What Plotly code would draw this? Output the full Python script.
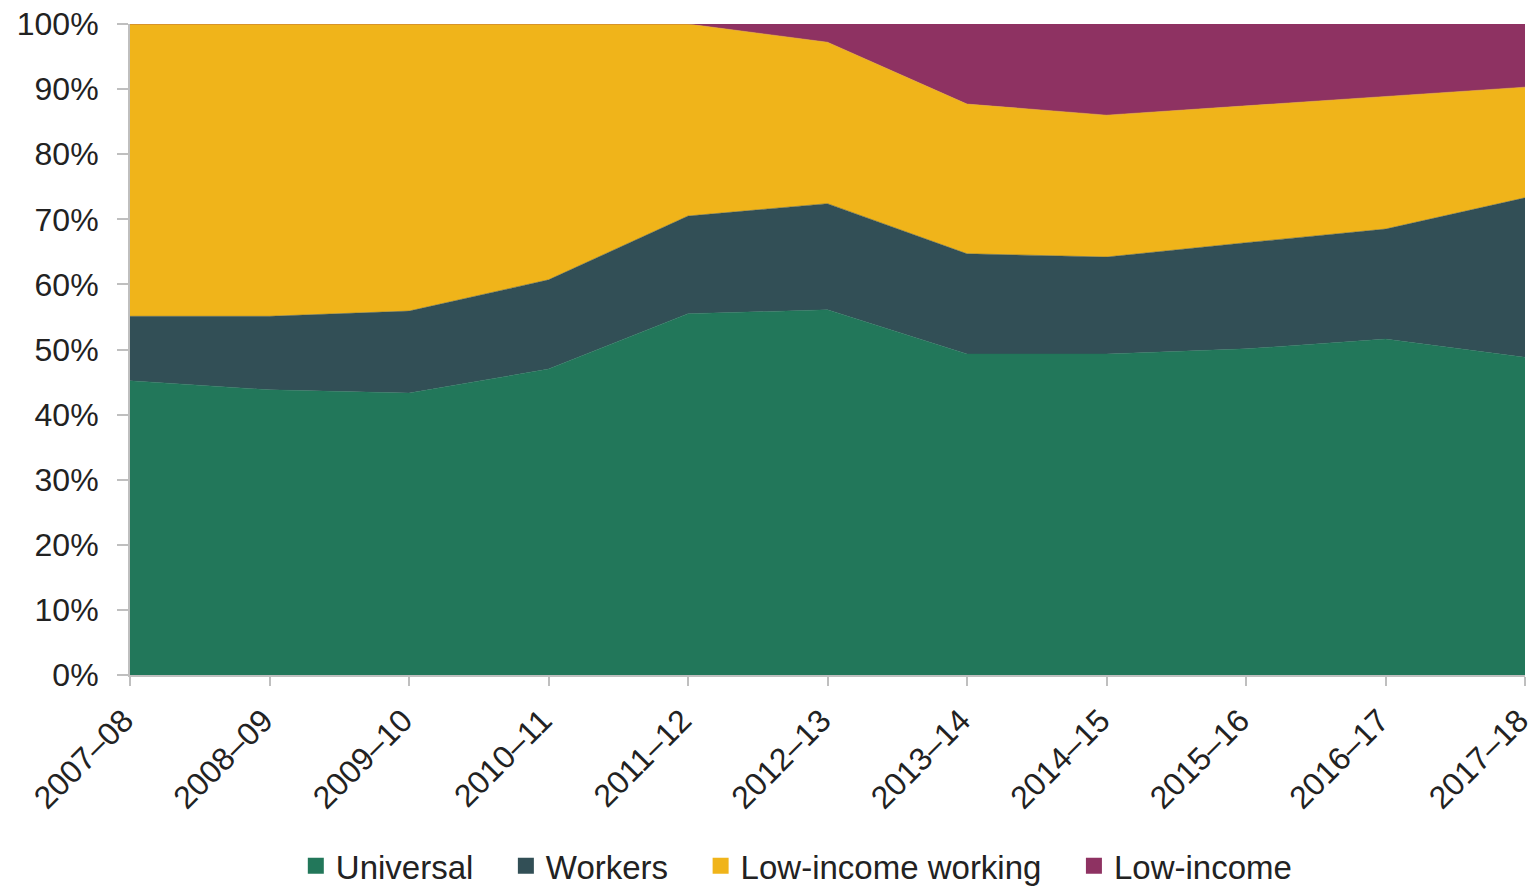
import plotly.graph_objects as go

years = ["2007–08", "2008–09", "2009–10", "2010–11", "2011–12", "2012–13",
         "2013–14", "2014–15", "2015–16", "2016–17", "2017–18"]
universal = [45.2, 43.8, 43.3, 47.0, 55.5, 56.1, 49.3, 49.3, 50.1, 51.6, 48.8]
workers = [9.9, 11.3, 12.6, 13.7, 15.0, 16.3, 15.4, 14.9, 16.3, 16.9, 24.5]
low_income_working = [44.9, 44.9, 44.1, 39.3, 29.5, 24.8, 23.0, 21.8, 21.0, 20.3, 17.0]
low_income = [0.0, 0.0, 0.0, 0.0, 0.0, 2.8, 12.3, 14.0, 12.6, 11.2, 9.7]
y_ticks = [0, 10, 20, 30, 40, 50, 60, 70, 80, 90, 100]
y_tick_labels = [f"{v}%" for v in y_ticks]

series = [
    ("Universal", universal, "#22775A"),
    ("Workers", workers, "#324F56"),
    ("Low-income working", low_income_working, "#F0B41A"),
    ("Low-income", low_income, "#8E3262"),
]

fig = go.Figure()
for name, vals, col in series:
    fig.add_trace(go.Scatter(
        x=years, y=vals, name=name, mode="lines", stackgroup="one",
        line=dict(width=0.5, color=col), fillcolor=col, showlegend=False,
    ))
# legend entries with square swatches
nbsp = "\u00a0" * 3
for i, (name, vals, col) in enumerate(series):
    fig.add_trace(go.Scatter(
        x=[None], y=[None], mode="markers", name=name + (nbsp if i < len(series) - 1 else ""),
        marker=dict(symbol="square", size=17, color=col), showlegend=True,
    ))

fig.update_layout(
    width=1534, height=903,
    margin=dict(l=130, r=9, t=24, b=216),
    paper_bgcolor="white", plot_bgcolor="white",
    font=dict(family="Liberation Sans, Arial, sans-serif", size=32, color="#222222"),
    showlegend=True,
    legend=dict(orientation="h", x=0.478, xanchor="center", y=-0.293, yanchor="middle",
                font=dict(size=33), traceorder="normal", tracegroupgap=0),
)
fig.update_xaxes(
    type="category", range=[0, 10], showgrid=False, zeroline=False,
    showline=True, linecolor="#BFBFBF", linewidth=2,
    ticks="outside", ticklen=9, tickcolor="#BFBFBF", tickwidth=2,
    tickangle=-45, tickfont=dict(size=32), automargin=False,
    ticklabelshift=-6, ticklabelstandoff=3,
)
fig.update_yaxes(
    range=[0, 100], tickvals=y_ticks, ticktext=y_tick_labels,
    showgrid=False, zeroline=False,
    showline=True, linecolor="#BFBFBF", linewidth=2,
    ticks="outside", ticklen=11, tickcolor="#BFBFBF", tickwidth=2,
    tickfont=dict(size=32), automargin=False, ticklabelstandoff=12,
)
fig.write_html(
    "out.html",
    config={"displayModeBar": False},
    post_script=(
        "document.documentElement.style.margin='0';"
        "document.documentElement.style.overflow='hidden';"
        "document.body.style.margin='0';document.body.style.padding='0';"
        "document.body.style.overflow='hidden';"
    ),
)
